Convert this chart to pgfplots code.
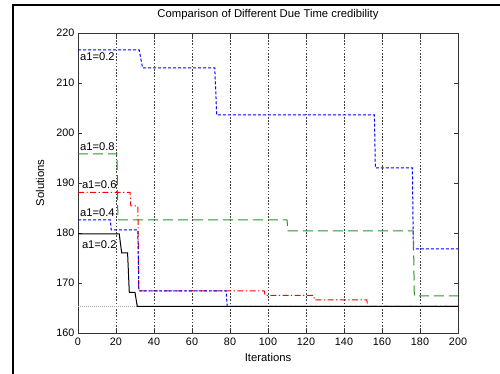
\documentclass[border=0pt]{standalone}
\usepackage{pgfplots}
\pgfplotsset{compat=1.18}
\usepackage{fontspec}
\setmainfont{Liberation Sans}
\definecolor{mgreen}{RGB}{40,150,40}
\begin{document}
\begin{tikzpicture}[x=1pt,y=1pt]
\useasboundingbox (0,0) rectangle (500,374);
\draw[line width=1.8pt] (13,0) -- (13,369) -- (500,369);
\begin{axis}[
  at={(78pt,41pt)}, anchor=south west,
  scale only axis, width=380pt, height=300pt,
  xmin=0, xmax=200, ymin=160, ymax=220,
  xtick={0,20,...,200}, ytick={160,170,...,220},
  tick align=inside, tick pos=both,
  major tick length=4pt,
  xmajorgrids,
  grid style={black!75, dash pattern=on 1.6pt off 1.6pt, line width=0.8pt},
  axis line style={black!80, line width=0.8pt},
  every tick/.style={black!80, line width=0.8pt},
  tick label style={font=\fontsize{10.8}{12}\selectfont},
  xticklabel style={yshift=-1pt},
  /pgf/number format/assume math mode=true,
  title={Comparison of Different Due Time credibility},
  title style={at={(axis description cs:0.5,1.04)}, anchor=center, font=\fontsize{11.3}{13}\selectfont},
  xlabel={Iterations},
  xlabel style={at={(axis description cs:0.5,-0.083)}, anchor=center, font=\fontsize{11.3}{13}\selectfont},
  ylabel={Solutions},
  ylabel style={at={(axis description cs:-0.1,0.5)}, anchor=center, font=\fontsize{11.3}{13}\selectfont},
  clip=true,
]
% gray dotted reference
\addplot[gray!70, dash pattern=on 1pt off 1pt, line width=0.8pt] coordinates {(0,165.3) (31,165.3)};
% a1=0.2 top (blue dotted)
\addplot[blue, dash pattern=on 3pt off 2pt, line width=1pt] coordinates {
(0,216.6) (32.2,216.6) (34,213.0) (72,213.0) (73,203.6) (156,203.6) (156.5,193) (176,193) (176.5,176.8) (200,176.8)};
% a1=0.8 green dashed
\addplot[mgreen, dash pattern=on 10pt off 5pt, line width=1pt] coordinates {
(0,195.8) (20.5,195.8) (21,182.6) (110,182.6) (110.5,180.4) (176.5,180.4) (177,167.4) (200,167.4)};
% a1=0.6 red dash-dot
\addplot[red, dash pattern=on 6pt off 2.5pt on 1.2pt off 2.5pt, line width=1pt] coordinates {
(0,188.1) (27.4,188.1) (27.8,185.4) (31.5,185.4) (32,168.4) (98,168.4) (98.5,167.5) (124,167.5) (124.5,166.6) (152,166.6) (152.5,165.3) (200,165.3)};
% a1=0.4 blue dotted
\addplot[blue, dash pattern=on 3pt off 2pt, line width=1pt] coordinates {
(0,182.6) (17,182.6) (17.5,180.6) (31.5,180.6) (32,168.4) (78,168.4) (78.5,165.3) (200,165.3)};
% a1=0.2 black solid
\addplot[black, line width=1pt] coordinates {
(0,179.8) (21.7,179.8) (23,176) (26.1,176) (27,168.1) (30,168.1) (31.2,165.3) (200,165.3)};
\begin{scope}[font=\fontsize{11.2}{13}\selectfont]
\node[anchor=west, inner sep=0pt] at (axis cs:1,215.2) {a1=0.2};
\node[anchor=west, inner sep=0pt] at (axis cs:1,197.2) {a1=0.8};
\node[anchor=west, inner sep=0pt] at (axis cs:2,189.6) {a1=0.6};
\node[anchor=west, inner sep=0pt] at (axis cs:1,184.1) {a1=0.4};
\node[anchor=west, inner sep=0pt] at (axis cs:2,177.7) {a1=0.2};
\end{scope}
\end{axis}
\end{tikzpicture}
\end{document}
